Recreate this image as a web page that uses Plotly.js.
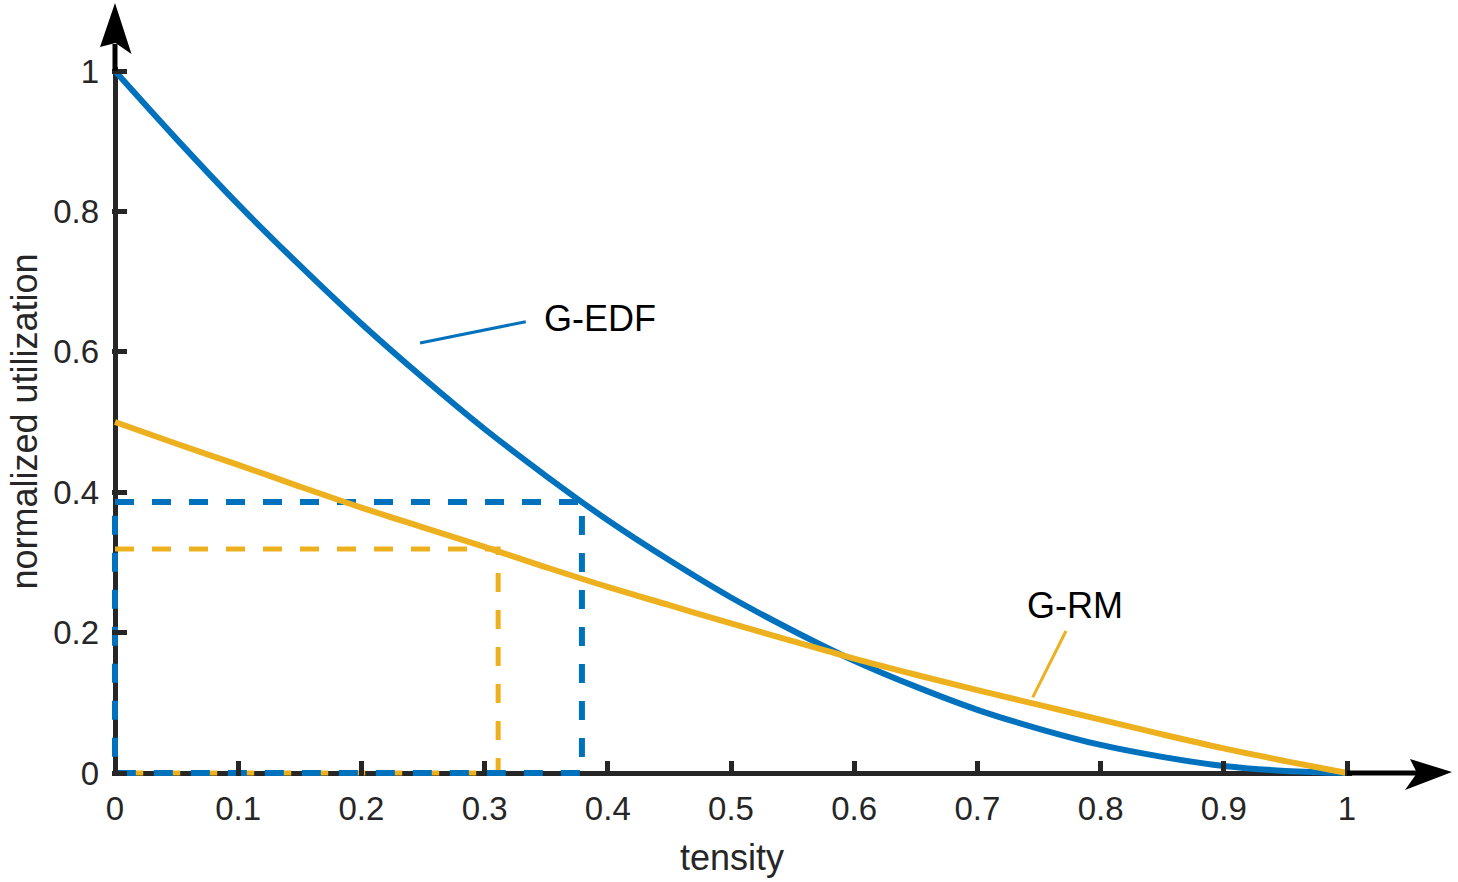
<!DOCTYPE html>
<html>
<head>
<meta charset="utf-8">
<script src="https://cdn.plot.ly/plotly-3.0.1.min.js"></script>
<style>
html,body{margin:0;padding:0;background:#fff;}
#chart{width:1458px;height:882px;}
</style>
</head>
<body>
<div id="chart"></div>
<script>
// ---- data ----
const tensity = [0,0.05,0.1,0.15,0.2,0.25,0.3,0.35,0.4,0.45,0.5,0.55,0.6,0.65,0.7,0.75,0.8,0.85,0.9,0.95,1];
const gEDF    = [1.000,0.903,0.810,0.723,0.640,0.563,0.490,0.423,0.360,0.303,0.250,0.203,0.160,0.123,0.090,0.063,0.040,0.023,0.010,0.003,0.000];
const gRM     = [0.500,0.469,0.439,0.408,0.378,0.350,0.322,0.293,0.265,0.239,0.213,0.188,0.163,0.140,0.118,0.097,0.076,0.055,0.035,0.017,0.000];

const edfMarkX = 0.379, edfMarkY = 0.386;
const rmMarkX  = 0.311, rmMarkY  = 0.319;

const xTickVals = [0,0.1,0.2,0.3,0.4,0.5,0.6,0.7,0.8,0.9,1];
const xTickText = ['0','0.1','0.2','0.3','0.4','0.5','0.6','0.7','0.8','0.9','1'];
const yTickVals = [0,0.2,0.4,0.6,0.8,1];
const yTickText = ['0','0.2','0.4','0.6','0.8','1'];

const labelEDF = {text:'G-EDF', x:0.394, y:0.648, lineFrom:[0.2476,0.6125], lineTo:[0.3334,0.6429]};
const labelRM  = {text:'G-RM',  x:0.779, y:0.238, lineFrom:[0.7449,0.1078], lineTo:[0.7719,0.2023]};

// ---- styling ----
const BLUE = '#0072BD', ORANGE = '#EDB120', AXIS = '#262626';
const W = 1458, H = 882, L = 112, R = 106, T = 67, B = 106;
const plotW = W - L - R, plotH = H - T - B;
const pxX = p => (p - L) / plotW;
const pxY = p => (H - B - p) / plotH;
const pathOf = pts => 'M ' + pts.map(p => pxX(p[0]) + ',' + pxY(p[1])).join(' L ') + ' Z';

const traces = [
  {x:[0, rmMarkX, rmMarkX, 0], y:[rmMarkY, rmMarkY, 0, 0], mode:'lines',
   line:{color:ORANGE, width:5, dash:'19px,18px'}, hoverinfo:'skip', showlegend:false},
  {x:[0, edfMarkX, edfMarkX, 0, 0], y:[edfMarkY, edfMarkY, 0, 0, edfMarkY], mode:'lines',
   line:{color:BLUE, width:6, dash:'19px,18px'}, hoverinfo:'skip', showlegend:false},
  {x:tensity, y:gEDF, mode:'lines', name:'G-EDF', line:{color:BLUE, width:6, shape:'spline'}, showlegend:false},
  {x:tensity, y:gRM, mode:'lines', name:'G-RM', line:{color:ORANGE, width:6, shape:'spline'}, showlegend:false}
];

const tickFont = {family:'Liberation Sans, Arial, sans-serif', size:33, color:AXIS};
const titleFont = {family:'Liberation Sans, Arial, sans-serif', size:36, color:AXIS};

const layout = {
  width:W, height:H,
  margin:{l:L, r:R, t:T, b:B},
  paper_bgcolor:'#fff', plot_bgcolor:'#fff',
  showlegend:false,
  hovermode:false,
  xaxis:{
    range:[-3/1232, 1 + 5/1232], showgrid:false, showline:false,
    zeroline:true, zerolinecolor:AXIS, zerolinewidth:5,
    ticks:'inside', ticklen:15, tickwidth:5, tickcolor:AXIS,
    tickvals:xTickVals, ticktext:xTickText, tickfont:tickFont, ticklabelstandoff:10,
    title:{text:'tensity', font:titleFont, standoff:18},
    automargin:false, fixedrange:true
  },
  yaxis:{
    range:[-3/702, 1 + 4/702], showgrid:false, showline:false,
    zeroline:true, zerolinecolor:AXIS, zerolinewidth:5,
    ticks:'inside', ticklen:15, tickwidth:5, tickcolor:AXIS,
    tickvals:yTickVals, ticktext:yTickText, tickfont:tickFont, ticklabelstandoff:12,
    title:{text:'normalized utilization', font:titleFont, standoff:4},
    automargin:false, fixedrange:true
  },
  shapes:[
    {type:'line', xref:'paper', yref:'paper', x0:pxX(115), y0:pxY(71), x1:pxX(115), y1:pxY(44), line:{color:'#000', width:5}, layer:'above'},
    {type:'path', xref:'paper', yref:'paper', path:pathOf([[115,3],[131.5,54],[115.5,43],[100,47]]), fillcolor:'#000', line:{width:0}, layer:'above'},
    {type:'line', xref:'paper', yref:'paper', x0:pxX(1347), y0:pxY(773), x1:pxX(1418), y1:pxY(773), line:{color:'#000', width:5}, layer:'above'},
    {type:'path', xref:'paper', yref:'paper', path:pathOf([[1452,772],[1405,790],[1417,773],[1410,759]]), fillcolor:'#000', line:{width:0}, layer:'above'},
    {type:'line', xref:'x', yref:'y', x0:labelEDF.lineFrom[0], y0:labelEDF.lineFrom[1], x1:labelEDF.lineTo[0], y1:labelEDF.lineTo[1], line:{color:BLUE, width:3}, layer:'above'},
    {type:'line', xref:'x', yref:'y', x0:labelRM.lineFrom[0], y0:labelRM.lineFrom[1], x1:labelRM.lineTo[0], y1:labelRM.lineTo[1], line:{color:ORANGE, width:3}, layer:'above'}
  ],
  annotations:[
    {text:labelEDF.text, x:labelEDF.x, y:labelEDF.y, xref:'x', yref:'y', showarrow:false, xanchor:'center', yanchor:'middle',
     font:{family:'Liberation Sans, Arial, sans-serif', size:36, color:'#000'}},
    {text:labelRM.text, x:labelRM.x, y:labelRM.y, xref:'x', yref:'y', showarrow:false, xanchor:'center', yanchor:'middle',
     font:{family:'Liberation Sans, Arial, sans-serif', size:36, color:'#000'}}
  ]
};

Plotly.newPlot('chart', traces, layout, {displayModeBar:false, staticPlot:true});
</script>
</body>
</html>
